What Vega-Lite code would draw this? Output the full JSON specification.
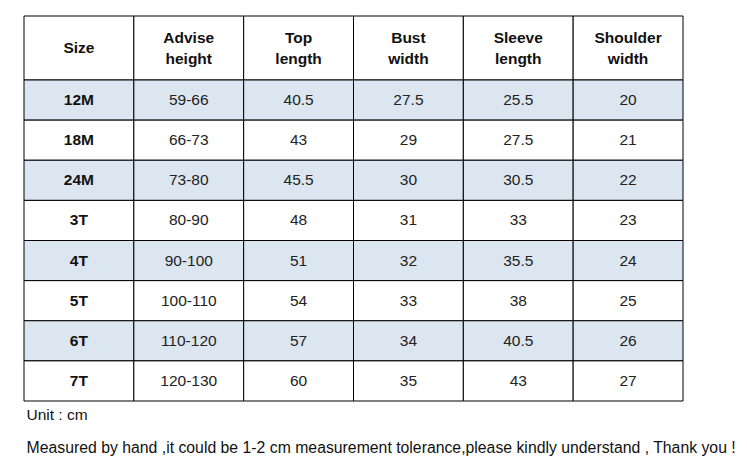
{
  "$schema": "https://vega.github.io/schema/vega-lite/v6.json",
  "padding": {"left": 23, "top": 15, "right": 10, "bottom": 5},
  "background": "white",
  "bounds": "flush",
  "spacing": 0,
  "config": {"view": {"stroke": null}, "font": "Liberation Sans"},
  "datasets": {
    "header": [
      {"col": "Size", "label": "Size", "lines": 1},
      {"col": "Advise height", "label": "Advise\nheight", "lines": 2},
      {"col": "Top length", "label": "Top\nlength", "lines": 2},
      {"col": "Bust width", "label": "Bust\nwidth", "lines": 2},
      {"col": "Sleeve length", "label": "Sleeve\nlength", "lines": 2},
      {"col": "Shoulder width", "label": "Shoulder\nwidth", "lines": 2}
    ],
    "cells": [
      {"row": "12M", "col": "Size", "v": "12M"}, {"row": "12M", "col": "Advise height", "v": "59-66"}, {"row": "12M", "col": "Top length", "v": "40.5"}, {"row": "12M", "col": "Bust width", "v": "27.5"}, {"row": "12M", "col": "Sleeve length", "v": "25.5"}, {"row": "12M", "col": "Shoulder width", "v": "20"},
      {"row": "18M", "col": "Size", "v": "18M"}, {"row": "18M", "col": "Advise height", "v": "66-73"}, {"row": "18M", "col": "Top length", "v": "43"}, {"row": "18M", "col": "Bust width", "v": "29"}, {"row": "18M", "col": "Sleeve length", "v": "27.5"}, {"row": "18M", "col": "Shoulder width", "v": "21"},
      {"row": "24M", "col": "Size", "v": "24M"}, {"row": "24M", "col": "Advise height", "v": "73-80"}, {"row": "24M", "col": "Top length", "v": "45.5"}, {"row": "24M", "col": "Bust width", "v": "30"}, {"row": "24M", "col": "Sleeve length", "v": "30.5"}, {"row": "24M", "col": "Shoulder width", "v": "22"},
      {"row": "3T", "col": "Size", "v": "3T"}, {"row": "3T", "col": "Advise height", "v": "80-90"}, {"row": "3T", "col": "Top length", "v": "48"}, {"row": "3T", "col": "Bust width", "v": "31"}, {"row": "3T", "col": "Sleeve length", "v": "33"}, {"row": "3T", "col": "Shoulder width", "v": "23"},
      {"row": "4T", "col": "Size", "v": "4T"}, {"row": "4T", "col": "Advise height", "v": "90-100"}, {"row": "4T", "col": "Top length", "v": "51"}, {"row": "4T", "col": "Bust width", "v": "32"}, {"row": "4T", "col": "Sleeve length", "v": "35.5"}, {"row": "4T", "col": "Shoulder width", "v": "24"},
      {"row": "5T", "col": "Size", "v": "5T"}, {"row": "5T", "col": "Advise height", "v": "100-110"}, {"row": "5T", "col": "Top length", "v": "54"}, {"row": "5T", "col": "Bust width", "v": "33"}, {"row": "5T", "col": "Sleeve length", "v": "38"}, {"row": "5T", "col": "Shoulder width", "v": "25"},
      {"row": "6T", "col": "Size", "v": "6T"}, {"row": "6T", "col": "Advise height", "v": "110-120"}, {"row": "6T", "col": "Top length", "v": "57"}, {"row": "6T", "col": "Bust width", "v": "34"}, {"row": "6T", "col": "Sleeve length", "v": "40.5"}, {"row": "6T", "col": "Shoulder width", "v": "26"},
      {"row": "7T", "col": "Size", "v": "7T"}, {"row": "7T", "col": "Advise height", "v": "120-130"}, {"row": "7T", "col": "Top length", "v": "60"}, {"row": "7T", "col": "Bust width", "v": "35"}, {"row": "7T", "col": "Sleeve length", "v": "43"}, {"row": "7T", "col": "Shoulder width", "v": "27"}
    ]
  },
  "vconcat": [
    {
      "width": 659,
      "height": 64,
      "data": {"name": "header"},
      "encoding": {
        "x": {"field": "col", "type": "nominal", "sort": null, "axis": null, "scale": {"paddingInner": 0, "paddingOuter": 0}}
      },
      "layer": [
        {"mark": {"type": "rect", "fill": "white", "stroke": "black", "strokeWidth": 1}},
        {"transform": [{"filter": "datum.lines === 1"}],
         "mark": {"type": "text", "fontWeight": "bold", "fontSize": 15.5, "color": "#111", "baseline": "middle"},
         "encoding": {"text": {"field": "label"}}},
        {"transform": [{"filter": "datum.lines === 2"}],
         "mark": {"type": "text", "fontWeight": "bold", "fontSize": 15.5, "color": "#111", "lineBreak": "\n", "lineHeight": 21, "baseline": "middle", "dy": -10.5},
         "encoding": {"text": {"field": "label"}}}
      ]
    },
    {
      "width": 659,
      "height": 321,
      "data": {"name": "cells"},
      "title": {
        "text": "Unit : cm",
        "subtitle": "Measured by hand ,it could be 1-2 cm measurement tolerance,please kindly understand , Thank you !",
        "orient": "bottom",
        "anchor": "start",
        "offset": 6,
        "fontWeight": "normal",
        "fontSize": 15.5,
        "color": "#111",
        "subtitleFontSize": 15.8,
        "subtitleColor": "#111",
        "subtitlePadding": 18,
        "dx": 3
      },
      "encoding": {
        "x": {"field": "col", "type": "nominal", "sort": ["Size", "Advise height", "Top length", "Bust width", "Sleeve length", "Shoulder width"], "axis": null, "scale": {"paddingInner": 0, "paddingOuter": 0}},
        "y": {"field": "row", "type": "nominal", "sort": ["12M", "18M", "24M", "3T", "4T", "5T", "6T", "7T"], "axis": null, "scale": {"paddingInner": 0, "paddingOuter": 0}}
      },
      "layer": [
        {"mark": {"type": "rect", "stroke": "black", "strokeWidth": 1},
         "encoding": {"fill": {"field": "row", "type": "nominal", "legend": null,
           "scale": {"domain": ["12M", "18M", "24M", "3T", "4T", "5T", "6T", "7T"], "range": ["#dce6f1", "#ffffff", "#dce6f1", "#ffffff", "#dce6f1", "#ffffff", "#dce6f1", "#ffffff"]}}}},
        {"transform": [{"filter": "datum.col === 'Size'"}],
         "mark": {"type": "text", "fontWeight": "bold", "fontSize": 15.5, "color": "#111", "baseline": "middle"},
         "encoding": {"text": {"field": "v"}}},
        {"transform": [{"filter": "datum.col !== 'Size'"}],
         "mark": {"type": "text", "fontWeight": "normal", "fontSize": 15.5, "color": "#222", "baseline": "middle"},
         "encoding": {"text": {"field": "v"}}}
      ]
    }
  ]
}
